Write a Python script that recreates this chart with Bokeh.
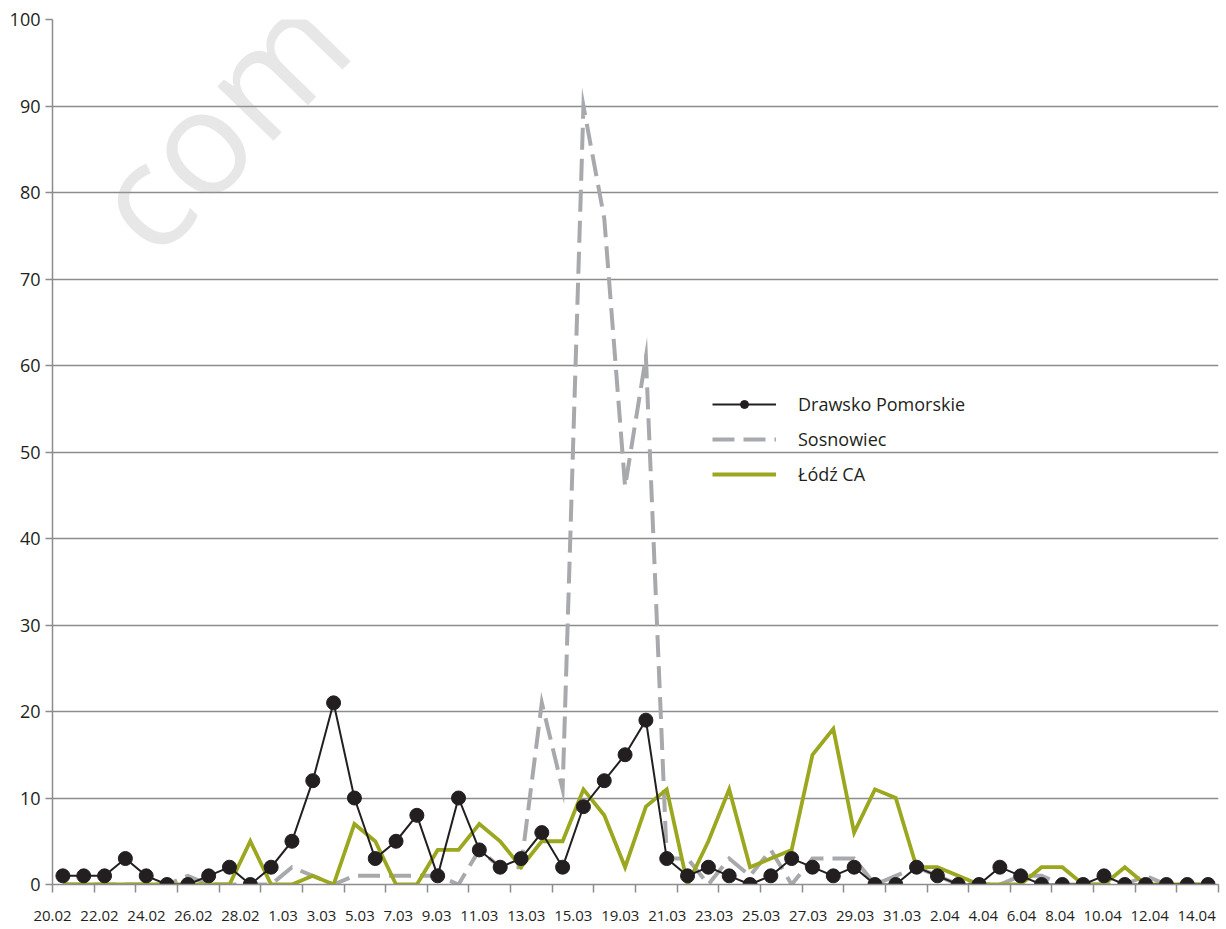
from bokeh.plotting import figure
from bokeh.models import (Range1d, FixedTicker, CustomJSTickFormatter, Legend,
                          LegendItem, Label, ColumnDataSource)
from bokeh.embed import file_html
from bokeh.resources import INLINE

# ---------------- data ----------------
date_labels = ["20.02", "22.02", "24.02", "26.02", "28.02", "1.03", "3.03", "5.03",
               "7.03", "9.03", "11.03", "13.03", "15.03", "19.03", "21.03", "23.03",
               "25.03", "27.03", "29.03", "31.03", "2.04", "4.04", "6.04", "8.04",
               "10.04", "12.04", "14.04"]

drawsko = [1, 1, 1, 3, 1, 0, 0, 1, 2, 0,
           2, 5, 12, 21, 10, 3, 5, 8, 1, 10,
           4, 2, 3, 6, 2, 9, 12, 15, 19, 3,
           1, 2, 1, 0, 1, 3, 2, 1, 2, 0,
           0, 2, 1, 0, 0, 2, 1, 0, 0, 0,
           1, 0, 0, 0, 0, 0]

sosnowiec = [0, 0, 0, 0, 0, 0, 1, 0, 0, 0,
             0, 2, 1, 0, 1, 1, 1, 1, 1, 0,
             4, 2, 2, 21, 11, 90, 77, 46, 61, 3,
             3, 0, 3, 1, 4, 0, 3, 3, 3, 0,
             1, 2, 1, 0, 0, 0, 1, 1, 0, 0,
             0, 0, 1, 0, 0, 0]

lodz = [0, 0, 0, 0, 0, 0, 0, 0, 0, 5,
        0, 0, 1, 0, 7, 5, 0, 0, 4, 4,
        7, 5, 2, 5, 5, 11, 8, 2, 9, 11,
        0, 5, 11, 2, 3, 4, 15, 18, 6, 11,
        10, 2, 2, 1, 0, 0, 0, 2, 2, 0,
        0, 2, 0, 0, 0, 0]

series_names = ["Drawsko Pomorskie", "Sosnowiec", "Łódź CA"]

n = len(drawsko)
idx = list(range(n))
src = ColumnDataSource(dict(x=idx, d=drawsko, s=sosnowiec, l=lodz))

# ---------------- layout helpers ----------------
# date labels are set one after another with spacing proportional to their width
cw, gap = 8.5, 4.0
raw = [0.0]
for k in range(1, len(date_labels)):
    raw.append(raw[-1] + (len(date_labels[k - 1]) + len(date_labels[k])) / 2 * cw + gap)
first, last = -0.5, 54.45
label_pos = [first + (r - raw[0]) / (raw[-1] - raw[0]) * (last - first) for r in raw]
boundaries = [-0.5 + 2 * k for k in range(n // 2 + 1)]

TEXT = "#231f20"
GRID = "#8c8c8c"
FONT = "Open Sans"

p = figure(width=1222, height=928,
           x_range=Range1d(-0.5, n - 0.5), y_range=Range1d(0, 100),
           output_backend="svg", toolbar_location=None,
           min_border_left=52, min_border_right=4, min_border_top=19, min_border_bottom=44)
p.outline_line_color = None
p.background_fill_color = "white"

# watermark
p.add_layout(Label(x=5.9, y=68.4, text="com", angle=0.80, text_font=FONT,
                   text_font_size="146px", text_color="#a0a0a0", text_alpha=0.25))

# grid
p.xgrid.visible = False
p.ygrid.ticker = FixedTicker(ticks=list(range(0, 101, 10)))
p.ygrid.grid_line_color = GRID
p.ygrid.grid_line_width = 1.5

# x axis
xa = p.xaxis[0]
xa.ticker = FixedTicker(ticks=label_pos, minor_ticks=boundaries)
xa.formatter = CustomJSTickFormatter(args=dict(labels=date_labels, pos=label_pos), code="""
let b = 0;
for (let i = 0; i < pos.length; i++) {
  if (Math.abs(pos[i] - tick) < Math.abs(pos[b] - tick)) b = i;
}
return labels[b];
""")
xa.major_tick_out = 0
xa.major_tick_in = 0
xa.major_tick_line_color = None
xa.minor_tick_out = 8
xa.minor_tick_in = 0
xa.minor_tick_line_color = GRID
xa.minor_tick_line_width = 1.5
xa.axis_line_color = GRID
xa.axis_line_width = 1.5
xa.major_label_standoff = 18
xa.major_label_text_font = FONT
xa.major_label_text_font_size = "15px"
xa.major_label_text_color = TEXT

# y axis
ya = p.yaxis[0]
ya.ticker = FixedTicker(ticks=list(range(0, 101, 10)))
ya.major_tick_out = 7
ya.major_tick_in = 0
ya.major_tick_line_color = GRID
ya.major_tick_line_width = 1.5
ya.minor_tick_line_color = None
ya.axis_line_color = GRID
ya.axis_line_width = 1.5
ya.major_label_standoff = 5
ya.major_label_text_font = FONT
ya.major_label_text_font_size = "18px"
ya.major_label_text_color = TEXT

# series
r_sos = p.line("x", "s", source=src, line_color="#a7a9ac", line_width=4,
               line_dash="22 9", line_join="miter")
r_lodz = p.line("x", "l", source=src, line_color="#9ba71e", line_width=3.8,
                line_join="miter")
r_dl = p.line("x", "d", source=src, line_color=TEXT, line_width=2, line_join="miter")
r_dp = p.scatter("x", "d", source=src, marker="circle", size=14,
                 fill_color=TEXT, line_color=TEXT)

legend = Legend(items=[LegendItem(label=series_names[0], renderers=[r_dl, r_dp]),
                       LegendItem(label=series_names[1], renderers=[r_sos]),
                       LegendItem(label=series_names[2], renderers=[r_lodz])],
                location=(660, 398), orientation="vertical",
                glyph_width=64, glyph_height=20, label_height=20, label_standoff=22,
                spacing=11, padding=0, margin=0,
                label_text_font=FONT, label_text_font_size="18px", label_text_color=TEXT,
                background_fill_alpha=0, border_line_alpha=0)
p.add_layout(legend)

open("out.html", "w").write(file_html(p, INLINE))
